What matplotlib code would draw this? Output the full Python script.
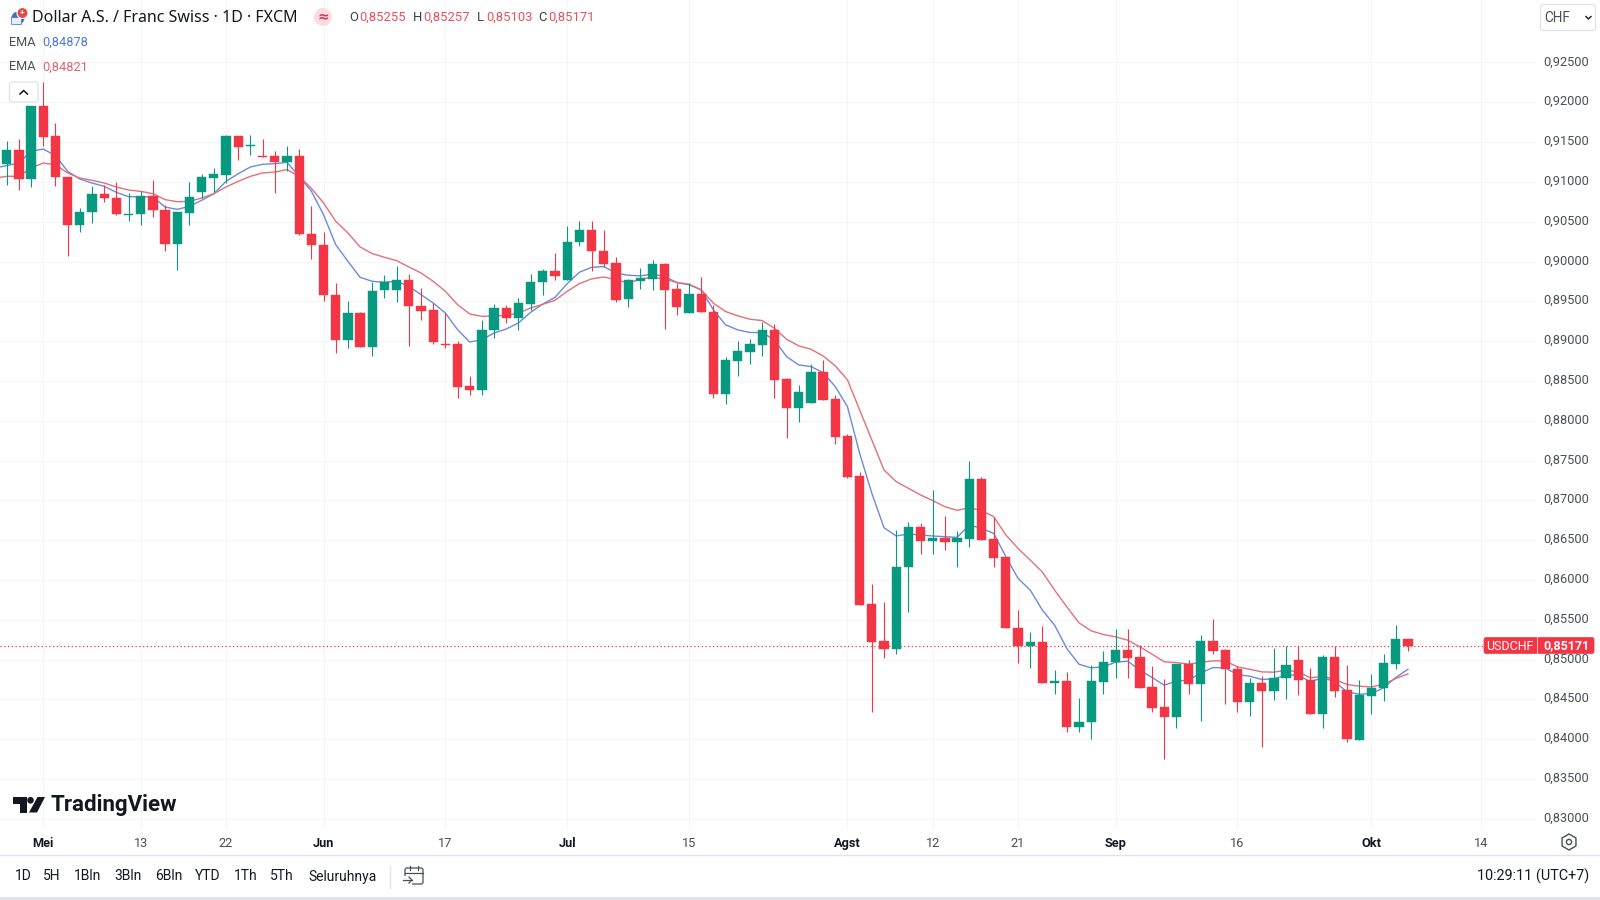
import matplotlib
matplotlib.use("Agg")
import matplotlib.pyplot as plt
from matplotlib.patches import Rectangle, Circle, Polygon, FancyBboxPatch
import numpy as np

plt.rcParams['font.family'] = ['Roboto', 'DejaVu Sans']

# daily candles USDCHF
opens = [.91225,.91405,.91032,.9195,.91573,.91066,.90454,.90626,.90848,.90793,
         .90588,.90592,.90823,.90647,.90215,.90613,.90873,.91053,.91091,.91581,
         .91447,.9133,.9133,.91254,.9133,.90345,.90208,.8958,.89018,.89353,
         .88926,.89647,.89647,.89772,.89446,.89395,.88968,.88968,.88432,.88381,
         .89135,.89416,.89295,.89471,.89743,.89885,.89772,.9025,.90401,.90133,
         .89979,.89531,.89761,.89786,.89971,.89652,.89351,.89589,.89367,.88337,
         .88756,.88869,.88952,.89141,.88521,.88165,.88223,.88613,.88274,.87809,
         .87306,.85697,.85232,.85131,.86158,.86669,.86493,.86522,.8648,.86514,
         .87268,.8651,.86283,.85399,.85176,.85218,.84703,.84728,.84154,.84221,
         .84719,.84966,.85117,.85034,.84656,.84405,.84279,.84941,.8469,.8523,
         .85117,.84883,.84468,.84707,.84602,.8477,.84992,.84749,.84313,.85034,
         .84615,.83986,.84539,.8464,.8495,.85255]
highs = [.9151,.91539,.9195,.92251,.9174,.91066,.90672,.90944,.90957,.90999,
         .9086,.90881,.91028,.90705,.90617,.90994,.91099,.91175,.91594,.91581,
         .91594,.91539,.91392,.91447,.91418,.90703,.90367,.8973,.895,.89366,
         .89739,.89835,.8994,.89844,.89668,.89479,.89353,.88997,.88557,.8927,
         .89471,.8945,.89542,.89844,.899,.90105,.90451,.90506,.90514,.90401,
         .90054,.89778,.89916,.90021,.89987,.89728,.89736,.89803,.89455,.88797,
         .89003,.89028,.89246,.89216,.88533,.88446,.88714,.88764,.88324,.87834,
         .87352,.85948,.85726,.86627,.86732,.86719,.8713,.86803,.86614,.87499,
         .87289,.86795,.86291,.85621,.85348,.85419,.84866,.84837,.84522,.84929,
         .85105,.85381,.85381,.8518,.84916,.84761,.84941,.84992,.85306,.85503,
         .85138,.84916,.84774,.84799,.85151,.85172,.85172,.84899,.85063,.85168,
         .84929,.8474,.84824,.85075,.85432,.85257]
lows = [.90965,.90894,.90936,.91455,.90952,.90064,.9037,.90483,.90747,.9058,
        .90513,.90462,.90554,.90135,.89888,.90454,.90797,.90869,.90986,.91271,
        .91342,.91313,.9086,.91133,.90336,.90035,.89508,.8885,.88913,.88926,
        .88817,.89542,.89492,.88934,.8927,.88968,.88913,.88285,.88327,.88327,
        .89039,.89228,.89144,.89395,.89584,.89764,.89772,.90191,.89877,.89932,
        .89497,.89434,.89656,.89644,.89149,.89334,.89351,.89363,.8829,.88211,
        .88563,.88714,.88818,.8829,.87779,.87989,.88219,.88261,.87708,.87276,
        .85684,.84339,.85014,.85068,.856,.86325,.86325,.86376,.86166,.86418,
        .86501,.86166,.85391,.84959,.84895,.84711,.84564,.84091,.84091,.84007,
        .84573,.84774,.84774,.84648,.84342,.83747,.84141,.84573,.84229,.85067,
        .84447,.84342,.84288,.83902,.84489,.8451,.8456,.84313,.84145,.84531,
        .83965,.83986,.84313,.8448,.84887,.85103]
closes = [.91405,.91032,.9195,.91568,.91066,.90454,.90626,.90848,.90793,.90592,
          .906,.90823,.90642,.90215,.90617,.90814,.91057,.91099,.91581,.91439,
          .9146,.91317,.91254,.9133,.90341,.90204,.89575,.89018,.89353,.88926,
          .89634,.89743,.89772,.89437,.89383,.88989,.88955,.88423,.88381,.89144,
          .89416,.89295,.89479,.89747,.89885,.89823,.9025,.90401,.90133,.89973,
          .89518,.8977,.8979,.89971,.89644,.89434,.89589,.89363,.88337,.88764,
          .88873,.88961,.89141,.88513,.88165,.88362,.88609,.88261,.878,.87297,
          .85684,.85223,.85131,.86166,.86669,.86493,.86522,.8648,.86522,.87268,
          .86501,.86271,.85391,.85173,.85218,.84711,.84728,.84154,.84221,.84728,
          .84966,.85117,.85025,.84648,.84397,.84279,.84941,.8469,.8523,.85109,
          .84878,.84468,.84707,.84602,.8477,.84929,.8474,.84313,.85034,.84602,
          .84007,.84552,.8464,.84958,.85264,.85171]

# EMA lines, first value sits one day before the first candle
ema_blue = [.91175,.91204,.91237,.91384,.91413,.9133,.91133,.91036,.90986,.90944,
            .90869,.90814,.90814,.9081,.90684,.90655,.90693,.90768,.90852,.91007,
            .91103,.91187,.91221,.91229,.91246,.9107,.90883,.90589,.90212,.90003,
            .89802,.89751,.89739,.89751,.89689,.89584,.89479,.89353,.89144,.88989,
            .89018,.89102,.89152,.89228,.89362,.89466,.8955,.89722,.89865,.89927,
            .89936,.89856,.89827,.8982,.89841,.89811,.89736,.89707,.89644,.89392,
            .89204,.89141,.89108,.89108,.89015,.88806,.88701,.8868,.88605,.88429,
            .88177,.87591,.87088,.86656,.86552,.86577,.86564,.86552,.86543,.86535,
            .8669,.86648,.86585,.86292,.86019,.85872,.8562,.85432,.85138,.84941,
            .84895,.84908,.84966,.84979,.84866,.84774,.84677,.84732,.8474,.84832,
            .84899,.84895,.84811,.84791,.84749,.84757,.84807,.84803,.84719,.84774,
            .84719,.84594,.84564,.84573,.84644,.84774,.84878]
ema_red = [.91045,.9107,.9107,.91175,.91237,.91216,.91112,.91049,.9102,.90986,
           .90936,.90898,.90881,.90852,.90777,.90751,.90756,.90797,.90852,.90936,
           .91007,.9107,.91112,.91124,.91154,.9107,.9092,.90736,.90506,.90359,
           .90183,.90099,.90053,.90011,.89932,.89856,.89751,.89626,.89458,.89341,
           .89311,.89316,.89324,.89353,.89416,.89462,.89513,.89626,.89722,.89781,
           .89806,.89772,.8973,.89778,.89803,.89778,.89736,.89715,.89644,.89476,
           .89371,.89317,.89275,.89258,.89162,.89024,.8894,.88898,.88814,.88689,
           .88513,.88135,.87758,.87381,.87235,.87151,.87067,.86996,.8692,.86874,
           .86908,.8687,.86795,.86564,.86397,.86249,.86098,.85872,.85662,.85461,
           .8536,.85314,.85285,.85243,.85159,.85067,.84971,.84962,.84941,.84966,
           .84983,.84983,.84908,.84878,.84845,.84841,.84866,.84845,.8477,.84791,
           .84749,.84686,.84665,.84656,.8469,.84761,.84821]

last_price = 0.85171
price_ticks = [.83,.835,.84,.845,.85,.855,.86,.865,.87,.875,.88,.885,.89,.895,.90,.905,.91,.915,.92,.925]
time_pos = [3,11,18,26,36,46,56,69,76,83,91,101,112,121]
time_labels = ['Mei','13','22','Jun','17','Jul','15','Agst','12','21','Sep','16','Okt','14']
month_labels = ['Mei','Jun','Jul','Agst','Sep','Okt']
ranges = ['1D','5H','1Bln','3Bln','6Bln','YTD','1Th','5Th','Seluruhnya']
range_x = [23,52,88,128,169,208,246,282,343]

GREEN = '#089981'
RED = '#f23645'
BLUE_LINE = '#6a8bdc'
RED_LINE = '#e2707a'
TXT = '#131722'
GRID = '#f4f5f7'

fig = plt.figure(figsize=(16, 9), dpi=100, facecolor='white')

# main pane is 0..1537 px wide and 0..829 px high
ax = fig.add_axes([0, 1-829/900, 1537/1600, 829/900])
ax.set_xlim(-0.55, 125.59)
ax.set_ylim(0.82871, 0.93285)
for s in ax.spines.values():
    s.set_visible(False)
ax.set_xticks([])
ax.set_yticks([])
ax.hlines(price_ticks, -1, 126, color=GRID, lw=0.8, zorder=0)
ax.vlines(time_pos, 0.8, 0.94, color=GRID, lw=0.8, zorder=0)

x = np.arange(len(closes))
opens = np.array(opens)
closes = np.array(closes)
col = [GREEN if c >= o else RED for o, c in zip(opens, closes)]

ax.plot([-0.55, 125.59], [last_price, last_price], color=RED, lw=0.9, ls=(0, (1, 2)), zorder=1)
ax.plot(np.arange(-1, len(ema_blue)-1), ema_blue, color=BLUE_LINE, lw=1, zorder=2)
ax.plot(np.arange(-1, len(ema_red)-1), ema_red, color=RED_LINE, lw=1, zorder=2)
ax.vlines(x, lows, highs, colors=col, lw=0.8, zorder=3)
ax.bar(x, np.abs(closes-opens), bottom=np.minimum(opens, closes), width=0.76,
       color=col, edgecolor=col, linewidth=0.3, zorder=4)

# overlay in pixel coordinates for the tradingview chrome
ov = fig.add_axes([0, 0, 1, 1], facecolor='none')
ov.set_xlim(0, 1600)
ov.set_ylim(900, 0)
ov.axis('off')

# price scale
for p in price_ticks:
    py = 101.6 + (0.92-p)*7960
    ov.text(1589, py, f"{p:.5f}".replace('.', ','), ha='right', va='center', fontsize=9.2, color='#4a4e57')

# time scale
for pos, lab in zip(time_pos, time_labels):
    px = 6.7 + pos*12.185
    ov.text(px, 842, lab, ha='center', va='center_baseline', fontsize=9.2, color=TXT if lab in month_labels else '#4a4e57',
            fontweight='bold' if lab in month_labels else 'normal')

ov.plot([0, 1600], [855, 855], color='#e0e3eb', lw=1)
ov.add_patch(Rectangle((0, 896.5), 1600, 4, color='#e0e3eb', lw=0))

# price tag
ov.add_patch(FancyBboxPatch((1484, 637.5), 110, 16, boxstyle="round,pad=0,rounding_size=2", fc=RED, ec=RED, lw=0.5))
ov.plot([1536.5, 1536.5], [637, 654], color='white', lw=0.7, alpha=0.7)
ov.text(1510, 646, 'USDCHF', ha='center', va='center', fontsize=9, color='white')
ov.text(1566, 646, '0,85171', ha='center', va='center', fontsize=9, color='white', fontweight='bold')

# header
ov.text(32, 17.5, 'Dollar A.S. / Franc Swiss · 1D · FXCM', ha='left', va='center', fontsize=11.5,
        color=TXT, family=['Noto Sans', 'DejaVu Sans'])
ov.add_patch(Circle((18, 18), 6.5, fc='#3d6fd0', ec='none'))
ov.add_patch(Rectangle((10.5, 17), 10, 7, fc='#e9edf5', ec='#3d6fd0', lw=0.5))
ov.add_patch(Circle((22.5, 13), 5.5, fc='#e8473f', ec='white', lw=0.8))
ov.text(22.5, 13, '+', ha='center', va='center', fontsize=6, color='white', fontweight='bold')
ov.add_patch(Circle((323, 17), 9, fc='#fbdce2', ec='none'))
ov.text(323, 16.5, '≈', ha='center', va='center', fontsize=10, color='#d0384e', family='DejaVu Sans', fontweight='bold')
for letter, lx, val, vx in [('O', 349.5, '0,85255', 359), ('H', 413, '0,85257', 423), ('L', 477, '0,85103', 486), ('C', 538, '0,85171', 548)]:
    ov.text(lx, 17.5, letter, ha='left', va='center', fontsize=9.4, color='#3a3f4a')
    ov.text(vx, 17.5, val, ha='left', va='center', fontsize=9.4, color='#e8505c')
ov.text(9.5, 42, 'EMA', ha='left', va='center', fontsize=9.2, color='#4a4e57')
ov.text(42, 42, '0,84878', ha='left', va='center', fontsize=9.2, color='#4a78d8')
ov.text(9.5, 67, 'EMA', ha='left', va='center', fontsize=9.2, color='#4a4e57')
ov.text(42, 67, '0,84821', ha='left', va='center', fontsize=9.2, color='#e8606b')
ov.add_patch(FancyBboxPatch((9.5, 82), 28.5, 20, boxstyle="round,pad=0,rounding_size=2", fc='white', ec='#e0e3eb', lw=0.9, zorder=5))
ov.plot([20, 23.7, 27.4], [94, 90.5, 94], color=TXT, lw=1.1, zorder=6)

# currency box
ov.add_patch(FancyBboxPatch((1540.5, 4.5), 55, 26, boxstyle="round,pad=0,rounding_size=3", fc='white', ec='#e0e3eb', lw=0.9))
ov.text(1544, 17.5, 'CHF', ha='left', va='center', fontsize=9.8, color='#4a4e57')
ov.plot([1586, 1588.5, 1591], [16.5, 19, 16.5], color=TXT, lw=1)

# logo
ov.add_patch(Polygon([(12.6, 797), (26.5, 797), (26.5, 812.5), (19.8, 812.5), (19.8, 803.5), (12.6, 803.5)], fc=TXT, ec='none'))
ov.add_patch(Circle((30.5, 800.3), 3.3, fc=TXT, ec='none'))
ov.add_patch(Polygon([(37.5, 797), (45, 797), (37, 812.5), (29, 812.5)], fc=TXT, ec='none'))
ov.text(50.5, 805, 'TradingView', ha='left', va='center', fontsize=16, color=TXT, fontweight='bold')

# toolbar
for lab, lx in zip(ranges, range_x):
    ov.text(lx, 876.5, lab, ha='center', va='center', fontsize=10, color=TXT)
ov.plot([389.6, 389.6], [866, 888], color='#e0e3eb', lw=1)
ov.text(1589, 876, '10:29:11 (UTC+7)', ha='right', va='center', fontsize=10.4, color=TXT)

# calendar icon
ov.add_patch(FancyBboxPatch((405, 868), 18, 16, boxstyle="round,pad=0,rounding_size=2", fc='white', ec='#4a4e57', lw=0.9))
ov.plot([405, 423], [872.5, 872.5], color='#4a4e57', lw=0.9)
ov.plot([410, 410], [866, 870], color='#4a4e57', lw=0.9)
ov.plot([418, 418], [866, 870], color='#4a4e57', lw=0.9)
ov.add_patch(Rectangle((403, 876), 9, 10, fc='white', ec='none'))
ov.plot([403, 412], [880, 880], color='#4a4e57', lw=0.9)
ov.plot([409, 412, 409], [877, 880, 883], color='#4a4e57', lw=0.9)

# settings icon
a = np.radians(np.arange(30, 390, 60))
ov.add_patch(Polygon(np.c_[1569 + 8*np.cos(a), 842 + 8*np.sin(a)], fc='none', ec='#4a4e57', lw=1))
ov.add_patch(Circle((1569, 842), 2.6, fc='none', ec='#4a4e57', lw=1))

fig.savefig('out.png', dpi=100)
